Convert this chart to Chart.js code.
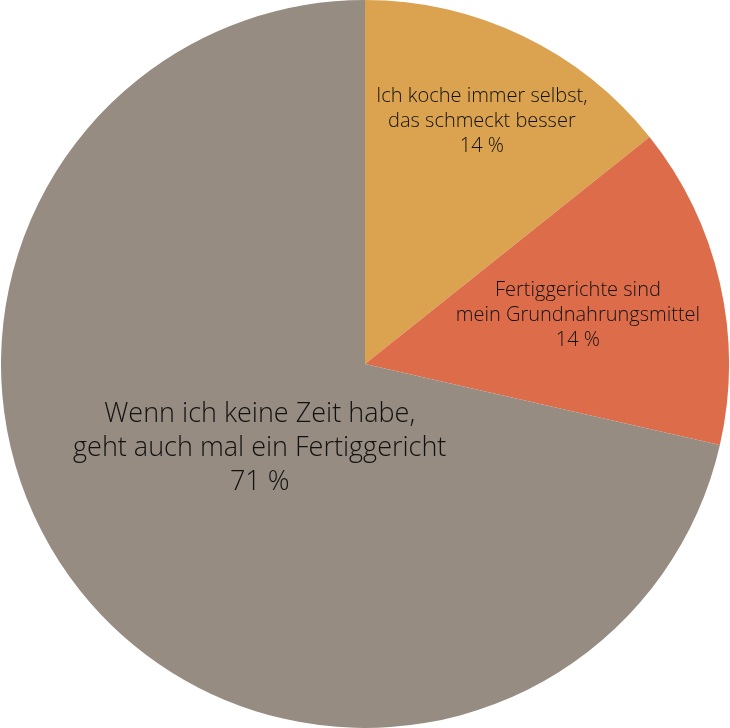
<!DOCTYPE html>
<html>
<head>
<meta charset="utf-8">
<script src="https://cdn.jsdelivr.net/npm/chart.js@4"></script>
<style>
  html, body { margin: 0; padding: 0; background: #fff; }
  #wrap { width: 730px; height: 728px; }
</style>
</head>
<body>
<div id="wrap"><canvas id="chart" width="730" height="728"></canvas></div>
<script>
const categories = [
  ["Ich koche immer selbst,", "das schmeckt besser"],
  ["Fertiggerichte sind", "mein Grundnahrungsmittel"],
  ["Wenn ich keine Zeit habe,", "geht auch mal ein Fertiggericht"],
];
const answers = [1, 1, 5];
const colors = ["#DBA24F", "#DD6D4A", "#968C82"];

// label placement: fraction of radius, font size
const labelRadius = [0.74, 0.6, 0.37];
const labelFont = [20, 20, 27];

const sliceLabels = {
  id: "sliceLabels",
  afterDatasetsDraw(chart) {
    const ctx = chart.ctx;
    const meta = chart.getDatasetMeta(0);
    const total = answers.reduce((a, b) => a + b, 0);
    meta.data.forEach((arc, i) => {
      const mid = (arc.startAngle + arc.endAngle) / 2;
      const r = arc.outerRadius * labelRadius[i];
      const x = arc.x + Math.cos(mid) * r;
      const y = arc.y + Math.sin(mid) * r;
      const size = labelFont[i];
      const lh = size * 1.26;
      const lines = [...categories[i], Math.round(answers[i] / total * 100) + " %"];
      ctx.save();
      ctx.font = "300 " + size + "px 'Open Sans', Lato, sans-serif";
      ctx.fillStyle = "#111";
      ctx.textAlign = "center";
      ctx.textBaseline = "middle";
      lines.forEach((t, k) => {
        ctx.fillText(t, x, y + (k - (lines.length - 1) / 2) * lh);
      });
      ctx.restore();
    });
  },
};

const chart = new Chart(document.getElementById("chart"), {
  type: "pie",
  data: {
    labels: categories.map(c => c.join(" ")),
    datasets: [{
      data: answers,
      backgroundColor: colors,
      borderWidth: 0,
    }],
  },
  options: {
    responsive: false,
    animation: false,
    layout: { padding: 0 },
    plugins: {
      legend: { display: false },
      tooltip: { enabled: false },
    },
  },
  plugins: [sliceLabels],
});
</script>
</body>
</html>
